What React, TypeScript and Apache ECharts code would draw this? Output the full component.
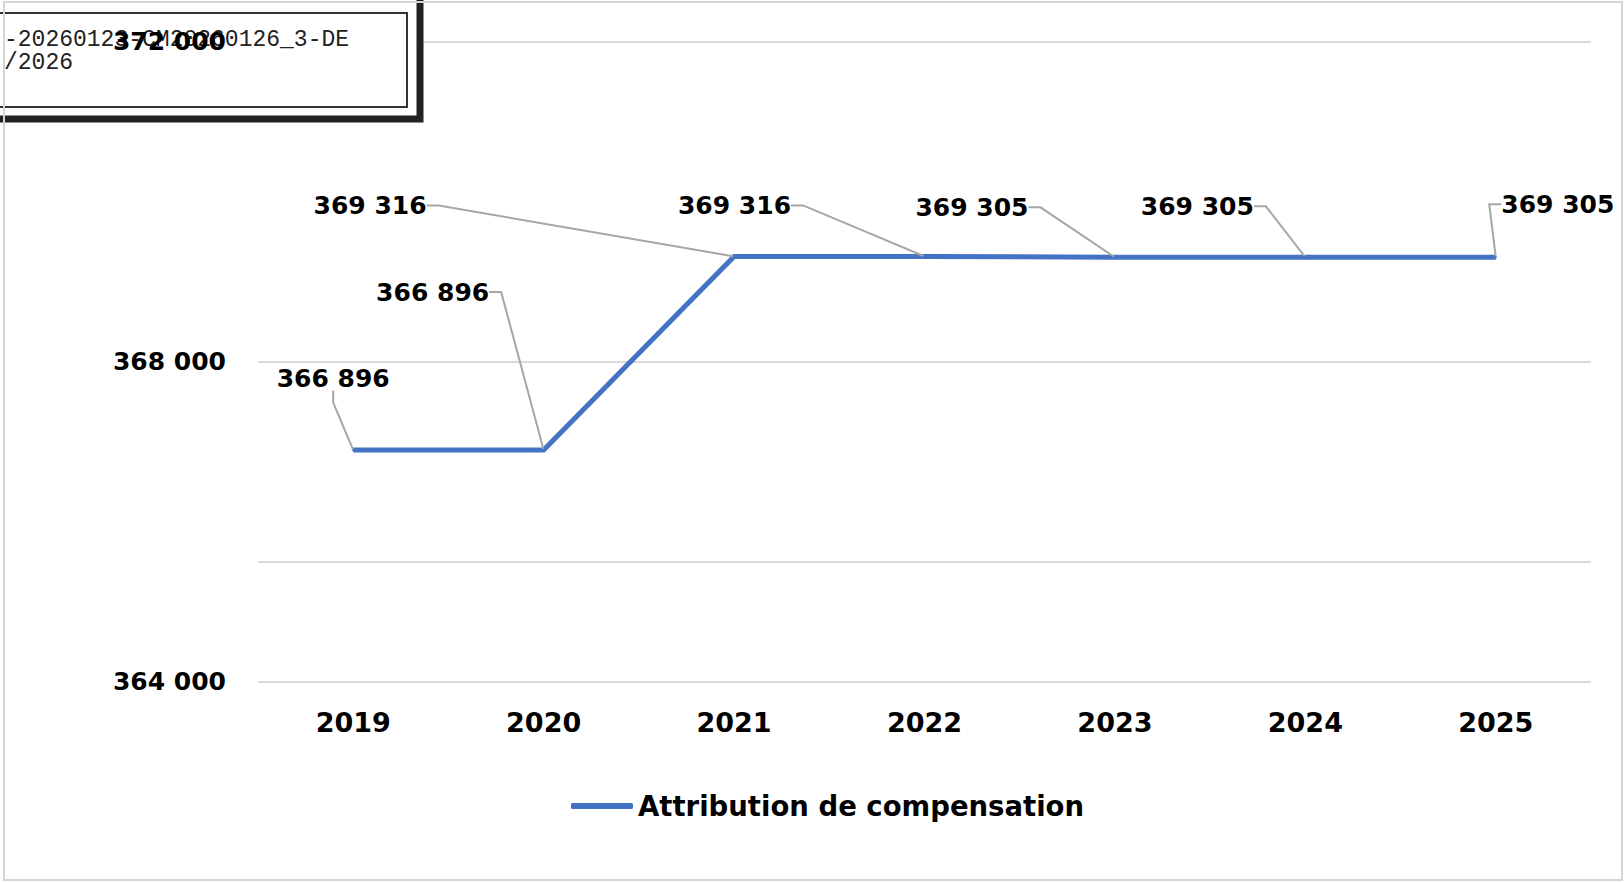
import React, { useEffect, useRef } from "react";
import * as echarts from "echarts";

const YEARS = ["2019", "2020", "2021", "2022", "2023", "2024", "2025"];
const VALUES = [366896, 366896, 369316, 369316, 369305, 369305, 369305];
const SERIES_NAME = "Attribution de compensation";
const Y_MIN = 364000;
const Y_MAX = 372000;
const Y_INTERVAL = 4000;
const GRID_VALUES = [364000, 365500, 368000, 372000];
const STAMP_LINES = ["-20260123-CM20260126_3-DE", "/2026"];

// label offsets (px) of each data label centre relative to its point
const LABEL_OFFSETS: [number, number][] = [
  [-20, -72],
  [-111, -158],
  [-364, -51],
  [-190, -51],
  [-143, -50],
  [-108, -51],
  [62, -53],
];

const FONT = "'DejaVu Sans', sans-serif";

const fmt = (v: number) => String(v).replace(/\B(?=(\d{3})+(?!\d))/g, " ");

export default function App() {
  const ref = useRef<HTMLDivElement>(null);

  useEffect(() => {
    document.body.style.margin = "0";
    const chart = echarts.init(ref.current!, null, { renderer: "svg" });
    chart.setOption({
      animation: false,
      backgroundColor: "#ffffff",
      grid: { left: 258, right: 33, top: 41.7, bottom: 200.3, containLabel: false },
      legend: {
        data: [SERIES_NAME],
        left: 566,
        top: 787,
        icon: "roundRect",
        itemWidth: 62,
        itemHeight: 6,
        textStyle: { fontFamily: FONT, fontSize: 27.5, fontWeight: "bold", color: "#000" },
      },
      xAxis: {
        type: "category",
        data: YEARS,
        boundaryGap: true,
        axisLine: { show: false },
        axisTick: { show: false },
        axisLabel: {
          fontFamily: FONT,
          fontSize: 27,
          fontWeight: "bold",
          color: "#000",
          margin: 27,
        },
      },
      yAxis: {
        type: "value",
        min: Y_MIN,
        max: Y_MAX,
        interval: Y_INTERVAL,
        z: 10,
        axisLine: { show: false },
        axisTick: { show: false },
        splitLine: { show: false },
        axisLabel: {
          fontFamily: FONT,
          fontSize: 25,
          fontWeight: "bold",
          color: "#000",
          margin: 32,
          formatter: (v: number) => fmt(v),
        },
      },
      series: [
        {
          name: SERIES_NAME,
          type: "line",
          z: 3,
          data: VALUES,
          symbol: "circle",
          symbolSize: 2,
          showSymbol: true,
          itemStyle: { color: "#4472C4" },
          lineStyle: { color: "#4472C4", width: 5, cap: "butt", join: "miter" },
          label: {
            show: true,
            position: "inside",
            formatter: (p: any) => fmt(p.value),
            fontFamily: FONT,
            fontSize: 25,
            fontWeight: "bold",
            color: "#000",
            textBorderWidth: 0,
          },
          labelLayout: (p: any) => {
            const o = LABEL_OFFSETS[p.dataIndex];
            return {
              x: p.rect.x + p.rect.width / 2 + o[0],
              y: p.rect.y + p.rect.height / 2 + o[1],
              align: "center",
              verticalAlign: "middle",
            };
          },
          labelLine: {
            show: true,
            length2: 12,
            lineStyle: { color: "#a6a6a6", width: 2 },
          },
          markLine: {
            silent: true,
            z: 1,
            symbol: "none",
            label: { show: false },
            lineStyle: { color: "#d9d9d9", width: 2, type: "solid" },
            data: GRID_VALUES.map((v) => ({ yAxis: v })),
          },
        },
      ],
      graphic: [
        {
          type: "rect",
          z: 5,
          shape: { x: -20, y: -20, width: 440, height: 139 },
          style: { fill: "#ffffff", stroke: "#222222", lineWidth: 7 },
        },
        {
          type: "rect",
          z: 6,
          shape: { x: -10, y: 13, width: 417, height: 94 },
          style: { fill: "none", stroke: "#333333", lineWidth: 2 },
        },
        {
          type: "text",
          z: 7,
          x: 4,
          y: 28,
          style: {
            text: STAMP_LINES.join("\n"),
            fontFamily: "'Liberation Mono', monospace",
            fontSize: 23,
            lineHeight: 23,
            fill: "#222222",
          },
        },
        {
          type: "rect",
          z: 20,
          shape: { x: 4, y: 2, width: 1618, height: 878 },
          style: { fill: "none", stroke: "#d6d6d6", lineWidth: 2 },
        },
      ],
    });
    return () => chart.dispose();
  }, []);

  return <div ref={ref} style={{ width: 1624, height: 882 }} />;
}
